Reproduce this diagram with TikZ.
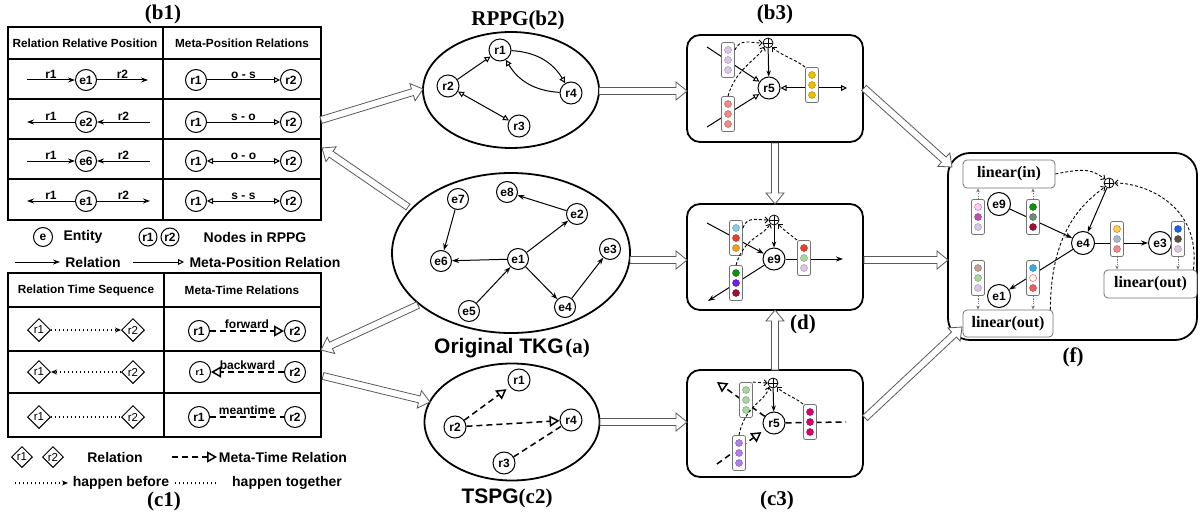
\documentclass[tikz,border=0pt]{standalone}
\usepackage{fontspec}
\setmainfont{Liberation Serif}
\setsansfont{Liberation Sans}
\usetikzlibrary{arrows.meta,calc,shapes.geometric}
\definecolor{cLav}{HTML}{DCC6E8}
\definecolor{cSal}{HTML}{F08A8A}
\definecolor{cGold}{HTML}{E8C000}
\definecolor{cLB}{HTML}{88CCEE}
\definecolor{cRed}{HTML}{E84030}
\definecolor{cOr}{HTML}{F0A020}
\definecolor{cGr}{HTML}{109010}
\definecolor{cVi}{HTML}{7020F0}
\definecolor{cDR}{HTML}{A01030}
\definecolor{cLG}{HTML}{A8D8A0}
\definecolor{cMP}{HTML}{B080F0}
\definecolor{cMag}{HTML}{D8006A}
\definecolor{cPk}{HTML}{FCD0EC}
\definecolor{cMg}{HTML}{C050B0}
\definecolor{cGG}{HTML}{6A8A7A}
\definecolor{cBr}{HTML}{C8A090}
\definecolor{cSky}{HTML}{40A8E8}
\definecolor{cRd2}{HTML}{E86060}
\definecolor{cYe}{HTML}{F8D848}
\definecolor{cGB}{HTML}{A8B8C8}
\definecolor{cBl}{HTML}{2060E8}
\definecolor{cDk}{HTML}{5A5040}
\newcommand{\vecbox}[5]{%
  \node[vbox] (#1) at (#2) {};
  \path[dot=#3] ($(#1)+(0,-10)$) circle (3.5pt);
  \path[dot=#4] (#1) circle (3.5pt);
  \path[dot=#5] ($(#1)+(0,10)$) circle (3.5pt);
}
\newcommand{\harrow}[2]{%
  \coordinate (hh) at ($(#2)!11pt!(#1)$);
  \draw[hollow] ($(#1)!3.5pt!90:(#2)$) -- ($(hh)!3.5pt!-90:(#1)$) -- ($(hh)!9pt!-90:(#1)$) -- (#2) -- ($(hh)!9pt!90:(#1)$) -- ($(hh)!3.5pt!90:(#1)$) -- ($(#1)!3.5pt!-90:(#2)$) -- cycle;
}
\begin{document}
\begin{tikzpicture}[x=1pt,y=-1pt,
  ttl/.style={font=\rmfamily\bfseries\fontsize{21}{24}\selectfont, inner sep=0pt},
  hdr/.style={font=\sffamily\bfseries\fontsize{11.8}{13}\selectfont, inner sep=0pt},
  lbl/.style={font=\sffamily\bfseries\fontsize{12}{13}\selectfont, inner sep=0.6pt},
  leg/.style={font=\sffamily\bfseries\fontsize{14}{16}\selectfont, inner sep=0pt},
  cn/.style={circle, draw, fill=white, line width=1pt, inner sep=0pt, minimum size=#1, font=\sffamily\bfseries\fontsize{12}{13}\selectfont},
  cn/.default=21pt,
  dm/.style={diamond, draw, fill=white, line width=1pt, inner sep=0pt, minimum width=#1, minimum height=#1, font=\sffamily\fontsize{11.5}{12}\selectfont},
  dm/.default=23pt,
  tl/.style={line width=1.8pt},
  bb/.style={draw, line width=1.8pt, rounded corners=13pt, inner sep=0pt},
  rel/.style={line width=1pt, -{Stealth[length=7pt,width=5pt]}},
  meta/.style={line width=1pt, -{Triangle[open,length=6pt,width=6pt]}},
  metab/.style={line width=1pt, {Triangle[open,length=6pt,width=6pt]}-{Triangle[open,length=6pt,width=6pt]}},
  mt/.style={line width=1.5pt, dash pattern=on 6pt off 4pt},
  mtA/.style={mt, -{Triangle[open,length=10pt,width=11pt,line width=1.5pt]}},
  dotl/.style={line width=1.1pt, dash pattern=on 1pt off 3pt},
  dotA/.style={dotl, -{Stealth[length=6pt,width=5pt]}},
  hollow/.style={draw=black!65, line width=0.8pt, fill=white, line join=miter},
  vbox/.style={draw=black!55, line width=0.8pt, fill=white, rounded corners=2pt, minimum width=13pt, minimum height=35pt, inner sep=0pt},
  dot/.style={fill=#1, draw=#1!70!black, line width=0.4pt},
  op/.style={circle, draw, line width=0.8pt, minimum size=10pt, inner sep=0pt, fill=white,
     path picture={\draw[line width=0.8pt] (path picture bounding box.north) -- (path picture bounding box.south) (path picture bounding box.west) -- (path picture bounding box.east);}},
  sa/.style={line width=1pt, -{Stealth[length=6pt,width=4.5pt]}},
  dc/.style={line width=0.9pt, dash pattern=on 3pt off 2pt, -{Straight Barb[length=3pt,width=6pt]}},
  gdot/.style={draw=black!55, line width=0.7pt, dash pattern=on 1.2pt off 1.2pt, -{Stealth[length=4pt,width=3.5pt]}},
  lin/.style={draw=black!55, line width=0.8pt, rounded corners=4pt, fill=white, font=\rmfamily\bfseries\fontsize{16}{18}\selectfont, inner sep=0pt}
]
\useasboundingbox (0,0) rectangle (1200,519);

% ---------------- titles
\node[ttl] (tb1t) at (163,14) {(b1)};
\node[ttl] (trp) at (518,20) {RPPG(b2)};
\node[ttl] (tb3) at (775,14) {(b3)};
\node[ttl] (tdd) at (803,324) {(d)};
\node[ttl] (tc3) at (777,500) {(c3)};
\node[ttl] (tff) at (1073,357) {(f)};
\node[ttl] (tc1) at (164,501) {(c1)};
\node[inner sep=0pt] (tsp) at (507,498) {{\sffamily\bfseries\fontsize{21}{24}\selectfont TSPG}{\rmfamily\bfseries\fontsize{21}{24}\selectfont (c2)}};
\node[inner sep=0pt] (ttk) at (512,348) {{\sffamily\bfseries\fontsize{21}{24}\selectfont Original TKG}\,{\rmfamily\bfseries\fontsize{21}{24}\selectfont (a)}};

% ---------------- table b1
\node[draw, tl, minimum width=313pt, minimum height=193pt, inner sep=0pt] (tabB) at (164.5,123.5) {};
\draw[tl] (163,27) -- (163,220);
\foreach \yy in {59,99,139,179} \draw[tl] (8,\yy) -- (321,\yy);
\node[hdr] (hb1) at (85,43) {Relation Relative Position};
\node[hdr] (hb2) at (242,43) {Meta-Position Relations};
% row 1
\node[cn] (ea1) at (86,80) {e1};
\coordinate (la1) at (27,80); \coordinate (lb1) at (148,80);
\draw[rel] (la1) -- node[lbl,above]{r1} (ea1);
\draw[rel] (ea1) -- node[lbl,above]{r2} (lb1);
% row 2
\node[cn] (ea2) at (86,122) {e2};
\coordinate (la2) at (27,122); \coordinate (lb2) at (150,122);
\draw[rel] (ea2) -- node[lbl,above]{r1} (la2);
\draw[rel] (lb2) -- node[lbl,above]{r2} (ea2);
% row 3
\node[cn] (ea3) at (86,161) {e6};
\coordinate (la3) at (27,161); \coordinate (lb3) at (150,161);
\draw[rel] (la3) -- node[lbl,above]{r1} (ea3);
\draw[rel] (lb3) -- node[lbl,above]{r2} (ea3);
% row 4
\node[cn] (ea4) at (86,201) {e1};
\coordinate (la4) at (27,201); \coordinate (lb4) at (150,201);
\draw[rel] (ea4) -- node[lbl,above]{r1} (la4);
\draw[rel] (ea4) -- node[lbl,above]{r2} (lb4);
% right column
\node[cn] (ra1) at (196,80) {r1}; \node[cn] (rb1) at (291,80) {r2};
\draw[meta] (ra1) -- node[lbl,above]{o - s} (rb1);
\node[cn] (ra2) at (196,122) {r1}; \node[cn] (rb2) at (291,122) {r2};
\draw[meta] (ra2) -- node[lbl,above]{s - o} (rb2);
\node[cn] (ra3) at (196,161) {r1}; \node[cn] (rb3) at (291,161) {r2};
\draw[metab] (ra3) -- node[lbl,above]{o - o} (rb3);
\node[cn] (ra4) at (196,201) {r1}; \node[cn] (rb4) at (291,201) {r2};
\draw[metab] (ra4) -- node[lbl,above]{s - s} (rb4);

% legend b1
\node[cn=19pt] (lge) at (43,237) {e};
\node[leg] (lgt1) at (83,237) {Entity};
\node[cn=18pt] (lgr1) at (148,237) {r1};
\node[cn=18pt] (lgr2) at (170,237) {r2};
\node[leg] (lgt2) at (255,237) {Nodes in RPPG};
\coordinate (lg1) at (15,262); \coordinate (lg2) at (60,262);
\draw[rel] (lg1) -- (lg2);
\node[leg] (lgt3) at (93,262) {Relation};
\coordinate (lg3) at (133,262); \coordinate (lg4) at (184,262);
\draw[meta] (lg3) -- (lg4);
\node[leg] (lgt4) at (265,262) {Meta-Position Relation};

% ---------------- table c1
\node[draw, tl, minimum width=313pt, minimum height=164pt, inner sep=0pt] (tabC) at (164.5,355) {};
\draw[tl] (164,273) -- (164,437);
\foreach \yy in {307,351,393} \draw[tl] (8,\yy) -- (321,\yy);
\node[hdr] (hc1) at (86,290) {Relation Time Sequence};
\node[hdr] (hc2) at (242,290) {Meta-Time Relations};
% rows
\node[dm] (da1) at (39,330) {r1}; \node[dm] (db1) at (133,330) {r2};
\draw[dotA] (da1) -- (db1);
\node[dm] (da2) at (39,372) {r1}; \node[dm] (db2) at (133,372) {r2};
\draw[dotA] (db2) -- (da2);
\node[dm] (da3) at (39,417) {r1}; \node[dm] (db3) at (133,417) {r2};
\draw[dotl] (da3) -- (db3);
\node[cn] (ca1) at (199,331) {r1}; \node[cn] (cb1) at (295,331) {r2};
\draw[mtA] (ca1) -- node[lbl,above,inner sep=1.5pt]{forward} (cb1);
\node[cn, font=\sffamily\bfseries\fontsize{9}{10}\selectfont] (ca2) at (200,372) {r1}; \node[cn] (cb2) at (295,372) {r2};
\draw[mtA] (cb2) -- node[lbl,above,inner sep=1.5pt]{backward} (ca2);
\node[cn] (ca3) at (199,417) {r1}; \node[cn] (cb3) at (295,417) {r2};
\draw[mt] (ca3) -- node[lbl,above,inner sep=1.5pt]{meantime} (cb3);
% legend c1
\node[dm=21pt] (lgd1) at (22,457) {r1};
\node[dm=21pt] (lgd2) at (53,457) {r2};
\node[leg] (lgt5) at (115,457) {Relation};
\coordinate (lg5) at (172,457); \coordinate (lg6) at (217,457);
\draw[mtA] (lg5) -- (lg6);
\node[leg] (lgt6) at (283,457) {Meta-Time Relation};
\coordinate (lg7) at (15,483); \coordinate (lg8) at (68,483);
\draw[dotA] (lg7) -- (lg8);
\node[leg] (lgt7) at (121,483) {happen before};
\coordinate (lg9) at (175,483); \coordinate (lg10) at (218,483);
\draw[dotl] (lg9) -- (lg10);
\node[leg] (lgt8) at (287,483) {happen together};

% ---------------- RPPG
\node[draw, ellipse, line width=1.8pt, minimum width=176pt, minimum height=116pt] (RP) at (511,90) {};
\node[cn=22pt] (pr1) at (500,50) {r1};
\node[cn=22pt] (pr2) at (448,86) {r2};
\node[cn=22pt] (pr3) at (519,126) {r3};
\node[cn=22pt] (pr4) at (571,93) {r4};
\draw[meta] (pr2) -- (pr1);
\draw[meta] (pr1) to[bend left=28] (pr4);
\draw[meta] (pr4) to[bend left=28] (pr1);
\draw[metab] (pr2) -- (pr3);

% ---------------- TKG
\node[draw, ellipse, line width=1.8pt, minimum width=238pt, minimum height=160pt] (TK) at (511,253) {};
\node[cn] (k7) at (458,199) {e7};
\node[cn] (k8) at (507,192) {e8};
\node[cn] (k2) at (577,214) {e2};
\node[cn] (k6) at (441,261) {e6};
\node[cn] (k1) at (518,259) {e1};
\node[cn] (k3) at (610,249) {e3};
\node[cn] (k5) at (469,311) {e5};
\node[cn] (k4) at (565,307) {e4};
\draw[rel] (k7) -- (k6);
\draw[rel] (k2) -- (k8);
\draw[rel] (k1) -- (k6);
\draw[rel] (k1) -- (k2);
\draw[rel] (k5) -- (k1);
\draw[rel] (k1) -- (k4);
\draw[rel] (k4) -- (k3);

% ---------------- TSPG
\node[draw, ellipse, line width=1.8pt, minimum width=175pt, minimum height=117pt] (TS) at (512,422) {};
\node[cn=22pt] (sr1) at (519,380) {r1};
\node[cn=22pt] (sr2) at (455,427) {r2};
\node[cn=22pt] (sr4) at (571,420) {r4};
\node[cn=22pt] (sr3) at (504,463) {r3};
\draw[mtA, shorten >=4pt] (sr2) -- (sr1);
\draw[mtA] (sr2) -- (sr4);
\draw[mt] (sr3) -- (sr4);

% ---------------- b3
\node[bb, minimum width=176pt, minimum height=107pt] (B3) at (775,88.5) {};
\coordinate (a1) at (707,47); \coordinate (a2) at (707,127); \coordinate (a3) at (847,88);
\node[cn=22pt] (r5b) at (769,88) {r5};
\node[op] (p1) at (768,43) {};
\draw[meta] (a1) -- (r5b);
\draw[meta] (a2) -- (r5b);
\draw[metab] (r5b) -- (a3);
\vecbox{pv}{728,60}{cLav}{cLav}{cLav}
\vecbox{rv}{728,114}{cSal}{cSal}{cSal}
\vecbox{yv}{812,85}{cGold}{cGold}{cGold}
\draw[sa] (p1) -- (r5b);
\draw[dc] ([yshift=10pt]pv.east) .. controls +(5,-12) and +(-12,0) .. (p1.west);
\draw[dc] (rv.north) .. controls +(8,-28) and +(-6,12) .. (p1.south west);
\draw[dc] (yv.north west) .. controls +(-10,-8) and +(8,8) .. (p1.south east);

% ---------------- d
\node[bb, minimum width=176pt, minimum height=106pt] (DD) at (775,257) {};
\node[cn=22pt] (e9d) at (774,259) {e9};
\node[op] (p2) at (774,220) {};
\coordinate (q1) at (707,223); \coordinate (q2) at (708,301); \coordinate (q3) at (843,259);
\draw[rel] (q1) -- (e9d);
\draw[rel] (e9d) -- (q2);
\draw[rel] (e9d) -- (q3);
\vecbox{d1}{736,238}{cLB}{cRed}{cOr}
\vecbox{d2}{736,283}{cGr}{cVi}{cDR}
\vecbox{d3}{804,258}{cRed}{cLG}{cLav}
\draw[sa] (p2) -- (e9d);
\draw[dc] ([yshift=10pt]d1.east) .. controls +(4,-12) and +(-12,0) .. (p2.west);
\draw[dc] (d2.north) .. controls +(8,-28) and +(-6,12) .. (p2.south west);
\draw[dc] (d3.north west) .. controls +(-10,-8) and +(8,8) .. (p2.south east);

% ---------------- c3
\node[bb, minimum width=176pt, minimum height=107pt] (CC) at (775,423.5) {};
\node[cn=22pt] (r5c) at (774,423) {r5};
\node[op] (p3) at (773,383) {};
\coordinate (t1) at (717,382); \coordinate (t2) at (717,464); \coordinate (t3) at (846,422);
\draw[mtA] (r5c) -- (t1);
\draw[mtA, shorten >=4pt] (t2) -- (r5c);
\draw[mt] (r5c) -- (t3);
\vecbox{g3}{746,400}{cLG}{cLG}{cLG}
\vecbox{u3}{739,453}{cMP}{cMP}{cMP}
\vecbox{m3}{810,422}{cMag}{cMag}{cMag}
\draw[sa] (p3) -- (r5c);
\draw[dc] (g3.north east) -- (p3.west);
\draw[dc] (u3.north) .. controls +(6,-30) and +(-4,15) .. (p3.south west);
\draw[dc] (m3.north west) .. controls +(-10,-8) and +(8,8) .. (p3.south east);

% ---------------- f
\node[bb, rounded corners=22pt, minimum width=249pt, minimum height=187pt] (FF) at (1072.5,246.5) {};
\node[lin, minimum width=92pt, minimum height=28pt] (li) at (1009,174) {linear(in)};
\node[lin, minimum width=90pt, minimum height=27pt] (lo1) at (1008,323.5) {linear(out)};
\node[lin, minimum width=93pt, minimum height=28pt] (lo2) at (1150.5,284) {linear(out)};
\node[op] (pf) at (1109,183) {};
\node[cn=23pt] (f9) at (999,204) {e9};
\node[cn=23pt] (f4) at (1083,243) {e4};
\node[cn=23pt] (f3) at (1160,243) {e3};
\node[cn=23pt] (f1) at (999,296) {e1};
\draw[rel] (f9) -- (f4);
\draw[rel] (f4) -- (f1);
\draw[rel] (f4) -- (f3);
\draw[sa] (pf) -- (f4);
\vecbox{v1}{978,217}{cPk,draw=cMg}{cMg}{cLav}
\vecbox{v2}{1033,217}{cGr}{cGG}{cDR}
\vecbox{v3}{978,278}{cBr}{cLG}{cLav}
\vecbox{v4}{1033,278}{cSky}{white,draw=cRed}{cRd2}
\vecbox{v5}{1117,239}{cYe,draw=cRed}{cGB}{cSal}
\vecbox{v6}{1178,239}{cBl}{cDk}{cLav}
\draw[gdot] (v1.north) -- (v1.north |- li.south);
\draw[gdot] (v2.north) -- (v2.north |- li.south);
\draw[gdot] (v3.south) -- (v3.south |- lo1.north);
\draw[gdot] (v4.south) -- (v4.south |- lo1.north);
\draw[gdot] (v5.south) -- (v5.south |- lo2.north);
\draw[gdot] (v6.south) -- (v6.south |- lo2.north);
\draw[dc] (li.east) .. controls +(30,-6) and +(-14,-10) .. (pf.north west);
\draw[dc] ([xshift=-3pt]lo1.north east) .. controls +(0,-75) and +(-25,18) .. (pf.south west);
\draw[dc] ([xshift=-4pt]lo2.north east) .. controls +(8,-65) and +(30,0) .. (pf.east);

% ---------------- hollow arrows
\coordinate (h1a) at (321,120); \coordinate (h1b) at (423,89);
\coordinate (h2a) at (408,207); \coordinate (h2b) at (322,148);
\coordinate (h3a) at (418,305); \coordinate (h3b) at (321,350);
\coordinate (h4a) at (323,376); \coordinate (h4b) at (430,402);
\coordinate (h5a) at (599,91); \coordinate (h5b) at (687,91);
\coordinate (h6a) at (630,260); \coordinate (h6b) at (687,260);
\coordinate (h7a) at (600,422); \coordinate (h7b) at (687,422);
\coordinate (h8a) at (775,143); \coordinate (h8b) at (775,204);
\coordinate (h9a) at (775,370); \coordinate (h9b) at (775,310);
\coordinate (h10a) at (864,88); \coordinate (h10b) at (952,167);
\coordinate (h11a) at (864,260); \coordinate (h11b) at (948,260);
\coordinate (h12a) at (865,418); \coordinate (h12b) at (962,327);
\harrow{h1a}{h1b}
\harrow{h2a}{h2b}
\harrow{h3a}{h3b}
\harrow{h4a}{h4b}
\harrow{h5a}{h5b}
\harrow{h6a}{h6b}
\harrow{h7a}{h7b}
\harrow{h8a}{h8b}
\harrow{h9a}{h9b}
\harrow{h10a}{h10b}
\harrow{h11a}{h11b}
\harrow{h12a}{h12b}
\end{tikzpicture}
\end{document}
